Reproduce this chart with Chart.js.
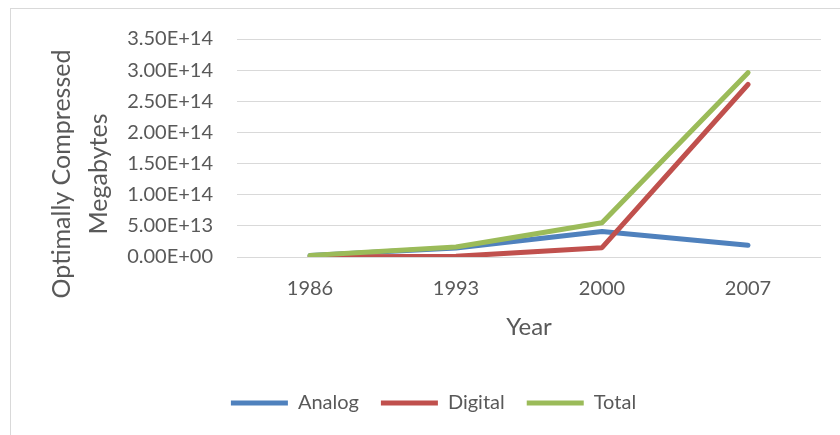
<!DOCTYPE html>
<html>
<head>
<meta charset="utf-8">
<script src="https://cdn.jsdelivr.net/npm/chart.js@4/dist/chart.umd.min.js"></script>
<style>
  html, body { margin: 0; padding: 0; background: #ffffff; overflow: hidden; }
  #wrap { position: relative; width: 840px; height: 435px; overflow: hidden; }
  #frame { position: absolute; left: 10px; top: 8px; width: 1000px; height: 1000px; border: 1px solid #D9D9D9; box-sizing: border-box; }
  canvas { position: absolute; left: 0; top: 0; }
</style>
</head>
<body>
<div id="wrap">
  <div id="frame"></div>
  <canvas id="c" width="840" height="435"></canvas>
</div>
<script>
const categories = ['1986', '1993', '2000', '2007'];
const analog  = [2.6e12, 1.45e13, 4.1e13, 1.9e13];
const digital = [2.0e10, 1.1e12, 1.5e13, 2.77e14];
const total   = [2.6e12, 1.6e13, 5.5e13, 2.96e14];
const seriesNames = ['Analog', 'Digital', 'Total'];
const yTitleLines = ['Optimally Compressed', 'Megabytes'];
const xTitle = 'Year';

const TEXT = '#595959';
const FONT = 'Lato';

function sciLabel(v) {
  const parts = Number(v).toExponential(2).split('e');
  const sign = parts[1][0] === '-' ? '-' : '+';
  const exp = parts[1].replace(/^[+-]/, '').padStart(2, '0');
  return parts[0] + 'E' + sign + exp;
}

const yTitlePlugin = {
  id: 'yTitle',
  afterDraw(chart) {
    const ctx = chart.ctx;
    ctx.save();
    ctx.font = '25px ' + FONT;
    ctx.fillStyle = TEXT;
    ctx.textAlign = 'center';
    ctx.textBaseline = 'middle';
    const xs = [62, 99];
    const cy = 174;
    yTitleLines.forEach((t, i) => {
      ctx.save();
      ctx.translate(xs[i], cy);
      ctx.rotate(-Math.PI / 2);
      ctx.fillText(t, 0, 0);
      ctx.restore();
    });
    ctx.restore();
  }
};

function ds(label, data, color, order) {
  return {
    label, data,
    borderColor: color, backgroundColor: color,
    borderWidth: 5, borderCapStyle: 'round', borderJoinStyle: 'round',
    pointRadius: 0, pointHoverRadius: 0, tension: 0, fill: false, order
  };
}

new Chart(document.getElementById('c'), {
  type: 'line',
  data: {
    labels: categories,
    datasets: [
      ds(seriesNames[0], analog, '#4F81BD', 3),
      ds(seriesNames[1], digital, '#C0504D', 2),
      ds(seriesNames[2], total, '#9BBB59', 1)
    ]
  },
  plugins: [yTitlePlugin],
  options: {
    responsive: false,
    animation: false,
    events: [],
    layout: { padding: { left: 46, right: 19, top: 39, bottom: 12 } },
    plugins: {
      tooltip: { enabled: false },
      legend: {
        position: 'bottom',
        labels: {
          usePointStyle: true,
          pointStyle: 'line',
          pointStyleWidth: 57,
          boxHeight: 5,
          color: TEXT,
          font: { family: FONT, size: 20 },
          padding: 22,
          sort: (a, b) => a.datasetIndex - b.datasetIndex
        }
      }
    },
    scales: {
      x: {
        offset: true,
        grid: { display: false, drawTicks: false },
        border: { display: false },
        ticks: { color: TEXT, font: { family: FONT, size: 20 }, padding: 20, maxRotation: 0 },
        title: { display: true, text: xTitle, color: TEXT, font: { family: FONT, size: 24 }, padding: { top: 0, bottom: 29 } },
        afterFit(scale) { scale.height = 114; }
      },
      y: {
        min: 0,
        max: 3.5e14,
        grid: { color: '#D9D9D9', lineWidth: 1, drawTicks: false },
        border: { display: false },
        ticks: { stepSize: 5e13, color: TEXT, font: { family: FONT, size: 20 }, padding: 24, callback: (v) => sciLabel(v) },
        afterFit(scale) { scale.width = 191; }
      }
    }
  }
});
</script>
</body>
</html>
